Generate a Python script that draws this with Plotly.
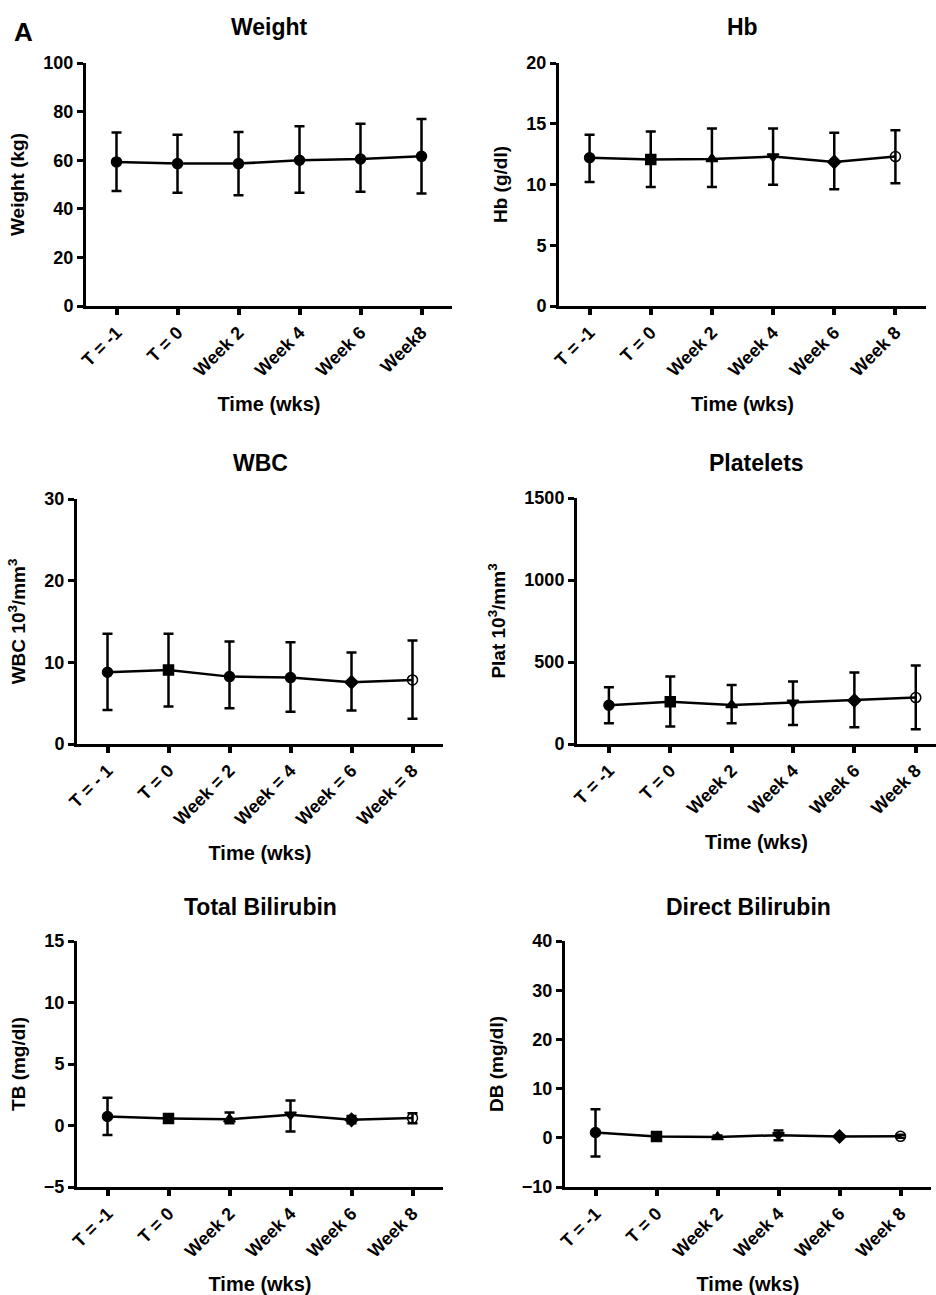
import plotly.graph_objects as go

W, H = 936, 1295

# ---------------- data ----------------
weight_labels = ["T = -1", "T = 0", "Week 2", "Week 4", "Week 6", "Week8"]
weight_mean = [59.3, 58.6, 58.6, 60.0, 60.5, 61.6]
weight_hi = [71.4, 70.5, 71.6, 74.0, 75.0, 77.0]
weight_lo = [47.3, 46.6, 45.6, 46.6, 47.0, 46.3]

hb_labels = ["T = -1", "T = 0", "Week 2", "Week 4", "Week 6", "Week 8"]
hb_mean = [12.2, 12.05, 12.1, 12.3, 11.86, 12.3]
hb_hi = [14.1, 14.36, 14.6, 14.6, 14.25, 14.47]
hb_lo = [10.2, 9.8, 9.8, 9.97, 9.6, 10.1]

wbc_labels = ["T = - 1", "T = 0", "Week = 2", "Week = 4", "Week = 6", "Week = 8"]
wbc_mean = [8.79, 9.07, 8.25, 8.13, 7.56, 7.85]
wbc_hi = [13.5, 13.5, 12.55, 12.46, 11.2, 12.67]
wbc_lo = [4.17, 4.58, 4.37, 3.96, 4.09, 3.1]

plt_labels = ["T = -1", "T = 0", "Week 2", "Week 4", "Week 6", "Week 8"]
plt_mean = [236, 258, 238, 252, 265, 283]
plt_hi = [346, 411, 360, 381, 436, 478]
plt_lo = [126, 106, 126, 116, 102, 90]

tb_labels = ["T = -1", "T = 0", "Week 2", "Week 4", "Week 6", "Week 8"]
tb_mean = [0.73, 0.57, 0.51, 0.87, 0.46, 0.6]
tb_hi = [2.25, 0.78, 1.05, 2.03, 0.78, 1.0]
tb_lo = [-0.78, 0.3, 0.19, -0.49, 0.19, 0.19]

db_labels = ["T = -1", "T = 0", "Week 2", "Week 4", "Week 6", "Week 8"]
db_mean = [1.08, 0.27, 0.14, 0.54, 0.27, 0.3]
db_hi = [5.8, 0.7, 0.45, 1.5, 0.5, 0.6]
db_lo = [-3.8, -0.2, -0.15, -0.5, 0.05, 0.0]

panels = [
    dict(title="Weight", ytitle="Weight (kg)", labels=weight_labels, mean=weight_mean,
         hi=weight_hi, lo=weight_lo, yticks=[0, 20, 40, 60, 80, 100],
         px=(86, 452), py=(63, 306), xr=[-0.5, 5.5], titley=27,
         symbols=["circle"] * 6),
    dict(title="Hb", ytitle="Hb (g/dl)", labels=hb_labels, mean=hb_mean,
         hi=hb_hi, lo=hb_lo, yticks=[0, 5, 10, 15, 20],
         px=(559, 926), py=(63, 306), xr=[-0.5, 5.5], titley=27,
         symbols=["circle", "square", "triangle-up", "triangle-down", "diamond", "circle-open"]),
    dict(title="WBC", ytitle="WBC 10<sup>3</sup>/mm<sup>3</sup>", labels=wbc_labels, mean=wbc_mean,
         hi=wbc_hi, lo=wbc_lo, yticks=[0, 10, 20, 30],
         px=(77, 443), py=(499, 744), xr=[-0.5, 5.5], titley=463,
         symbols=["circle", "square", "circle", "circle", "diamond", "circle-open"]),
    dict(title="Platelets", ytitle="Plat 10<sup>3</sup>/mm<sup>3</sup>", labels=plt_labels, mean=plt_mean,
         hi=plt_hi, lo=plt_lo, yticks=[0, 500, 1000, 1500],
         px=(577, 936), py=(498, 744), xr=[-0.52, 5.33], titley=463,
         symbols=["circle", "square", "triangle-up", "triangle-down", "diamond", "circle-open"]),
    dict(title="Total Bilirubin", ytitle="TB (mg/dl)", labels=tb_labels, mean=tb_mean,
         hi=tb_hi, lo=tb_lo, yticks=[-5, 0, 5, 10, 15],
         px=(77, 443), py=(941, 1187), xr=[-0.5, 5.5], titley=907,
         symbols=["circle", "square", "triangle-up", "triangle-down", "diamond", "circle-open"]),
    dict(title="Direct Bilirubin", ytitle="DB (mg/dl)", labels=db_labels, mean=db_mean,
         hi=db_hi, lo=db_lo, yticks=[-10, 0, 10, 20, 30, 40],
         px=(565, 931), py=(941, 1187), xr=[-0.5, 5.5], titley=907,
         symbols=["circle", "square", "triangle-up", "triangle-down", "diamond", "circle-open"]),
]

FONT = "Liberation Sans, Arial, sans-serif"

fig = go.Figure()
layout = dict(
    width=W, height=H, margin=dict(l=0, r=0, t=0, b=0, autoexpand=False),
    paper_bgcolor="white", plot_bgcolor="white", showlegend=False,
    font=dict(family=FONT, color="black", size=18, weight="bold"),
)
annotations = []

for i, p in enumerate(panels, start=1):
    xs = list(range(len(p["labels"])))
    up = [h - m for h, m in zip(p["hi"], p["mean"])]
    dn = [m - l for m, l in zip(p["mean"], p["lo"])]
    xa = "x" if i == 1 else f"x{i}"
    ya = "y" if i == 1 else f"y{i}"
    fig.add_trace(go.Scatter(
        x=xs, y=p["mean"], mode="lines+markers", xaxis=xa, yaxis=ya,
        line=dict(color="black", width=2.5),
        marker=dict(symbol=p["symbols"], size=10, color="black",
                    line=dict(color="black", width=1.5)),
        error_y=dict(type="data", symmetric=False, array=up, arrayminus=dn,
                     color="black", thickness=2.5, width=5),
        cliponaxis=False,
    ))
    x0, x1 = p["px"]
    y0, y1 = p["py"]
    ymin, ymax = p["yticks"][0], p["yticks"][-1]
    layout["xaxis" if i == 1 else f"xaxis{i}"] = dict(
        domain=[x0 / W, x1 / W], anchor=ya, range=p["xr"], automargin=False,
        tickvals=xs, ticktext=p["labels"], tickangle=-45,
        showline=True, linecolor="black", linewidth=3, mirror=False,
        ticks="outside", ticklen=6, tickwidth=4, tickcolor="black",
        showgrid=False, zeroline=False,
        tickfont=dict(size=18, family=FONT, weight="bold"),
        title=dict(text="Time (wks)", font=dict(size=20, family=FONT, weight="bold"),
                   standoff=18),
    )
    layout["yaxis" if i == 1 else f"yaxis{i}"] = dict(
        domain=[1 - y1 / H, 1 - y0 / H], anchor=xa, range=[ymin, ymax], automargin=False,
        tickvals=p["yticks"],
        showline=True, linecolor="black", linewidth=3,
        ticks="outside", ticklen=6, tickwidth=3, tickcolor="black",
        showgrid=False, zeroline=False,
        tickfont=dict(size=18, family=FONT, weight="bold"),
        title=dict(text=p["ytitle"], font=dict(size=19, family=FONT, weight="bold"),
                   standoff=14),
    )
    annotations.append(dict(
        text=p["title"], x=(x0 + x1) / 2 / W, y=1 - p["titley"] / H,
        xref="paper", yref="paper", xanchor="center", yanchor="middle",
        showarrow=False, font=dict(size=23, family=FONT, weight="bold"),
    ))

annotations.append(dict(
    text="A", x=12 / W, y=1 - 32 / H, xref="paper", yref="paper",
    xanchor="left", yanchor="middle", showarrow=False,
    font=dict(size=26, family=FONT, weight="bold"),
))
layout["annotations"] = annotations
fig.update_layout(**layout)
fig.write_html("out.html", config={"displayModeBar": False},
               post_script="document.body.style.margin='0';document.body.style.overflow='hidden';")
